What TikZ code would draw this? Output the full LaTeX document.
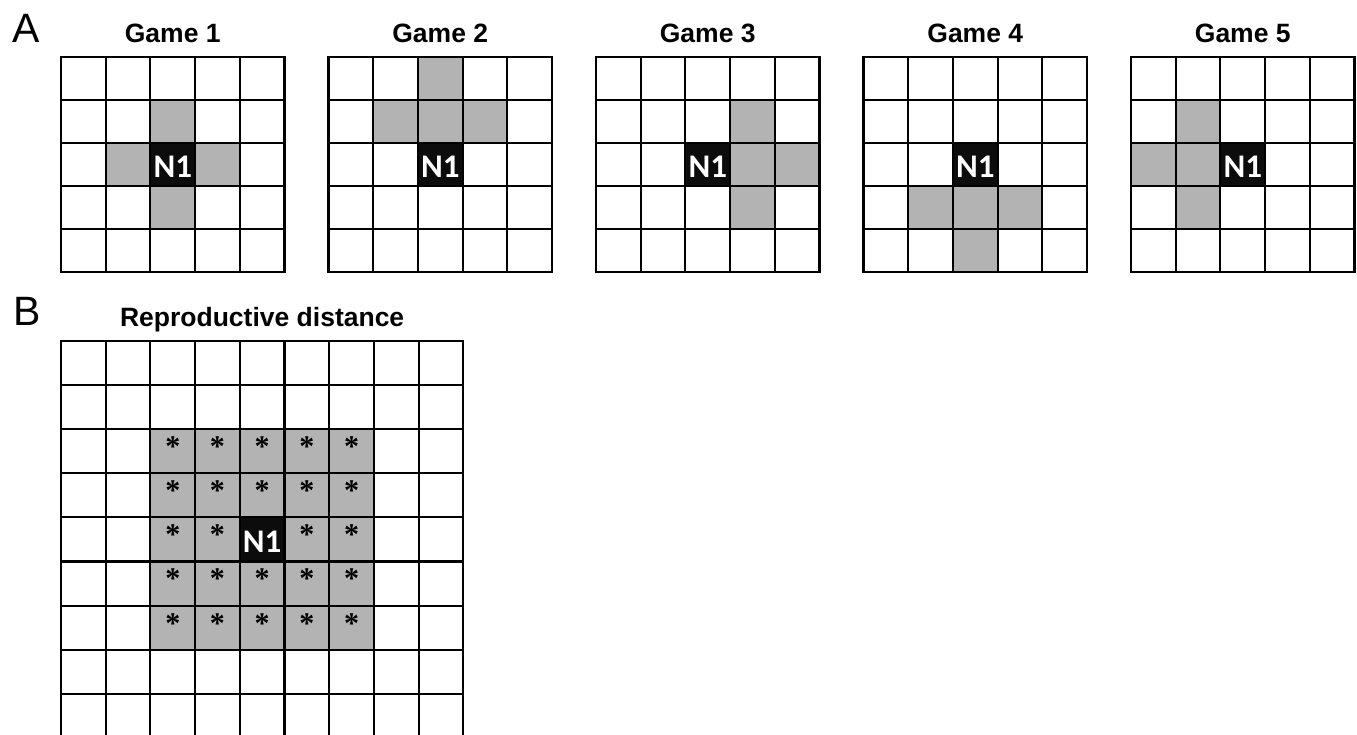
\documentclass[tikz,border=0pt]{standalone}
\usepackage{fontspec}
\setmainfont{Liberation Sans}
\newfontfamily\calib{Carlito}
\newfontfamily\serifstar{Liberation Serif}
\definecolor{cellgray}{RGB}{179,179,179}
\definecolor{cellblack}{RGB}{12,12,12}
\newcommand\cw{44.7}
\newcommand\gamegrid[4]{% #1 x0, #2 gray cells, #3 title, #4 name
  \foreach \r/\c in {#2}
    \fill[cellgray] ({#1+\c*\cw},{57+\r*43}) rectangle +(\cw,43);
  \fill[cellblack] ({#1+2*\cw},{57+2*43}) rectangle +(\cw,43);
  \foreach \r in {0,...,4}
    \foreach \c in {0,...,4}
      \draw[gridline] ({#1+\c*\cw},{57+\r*43}) rectangle +(\cw,43);
  \node[title] (t#4) at ({#1+2.5*\cw},42) {#3};
  \node[nlabel] (n#4) at ({#1+2.5*\cw},{57+2.5*43+2}) {N1};
}
\begin{document}
\begin{tikzpicture}[x=1pt,y=-1pt,
  gridline/.style={line width=2.1pt,draw=black},
  title/.style={font=\bfseries\fontsize{26.5}{26.5}\selectfont,anchor=base,inner sep=0pt},
  panel/.style={font=\fontsize{41}{41}\selectfont,anchor=base west,inner sep=0pt},
  nlabel/.style={font=\calib\bfseries\fontsize{33}{33}\selectfont,text=white,inner sep=0pt},
  starlabel/.style={font=\serifstar\bfseries\fontsize{30}{30}\selectfont,inner sep=0pt}]
\useasboundingbox (0,0) rectangle (1357,734);
\clip (0,0) rectangle (1357,734);
\fill[white] (0,0) rectangle (1357,734);
% Panel A
\node[panel] (A) at (12,42) {A};
\gamegrid{61}{1/2,2/1,2/3,3/2}{Game 1}{1}
\gamegrid{328.5}{0/2,1/1,1/2,1/3}{Game 2}{2}
\gamegrid{596}{1/3,2/3,2/4,3/3}{Game 3}{3}
\gamegrid{863.5}{3/1,3/2,3/3,4/2}{Game 4}{4}
\gamegrid{1131}{1/1,2/0,2/1,3/1}{Game 5}{5}
% Panel B
\node[panel] (B) at (13,325) {B};
\node[title] (tB) at ({61+4.5*\cw},326) {Reproductive distance};
\fill[cellgray] ({61+2*\cw},{341+2*44.1}) rectangle +({5*\cw},{5*44.1});
\fill[cellblack] ({61+4*\cw},{341+4*44.1}) rectangle +(\cw,44.1);
\foreach \r in {0,...,8}
  \foreach \c in {0,...,8}
    \draw[gridline] ({61+\c*\cw},{341+\r*44.1}) rectangle +(\cw,44.1);
\node[nlabel] (nB) at ({61+4.5*\cw},{341+4.5*44.1+2}) {N1};
\foreach \r in {2,...,6}
  \foreach \c in {2,...,6} {
    \ifnum\r=4 \ifnum\c=4 \else
      \node[starlabel] (s\r\c) at ({61+(\c+0.5)*\cw},{341+(\r+0.5)*44.1-4.5}) {*};
    \fi\else
      \node[starlabel] (s\r\c) at ({61+(\c+0.5)*\cw},{341+(\r+0.5)*44.1-4.5}) {*};
    \fi
  }
\end{tikzpicture}
\end{document}
